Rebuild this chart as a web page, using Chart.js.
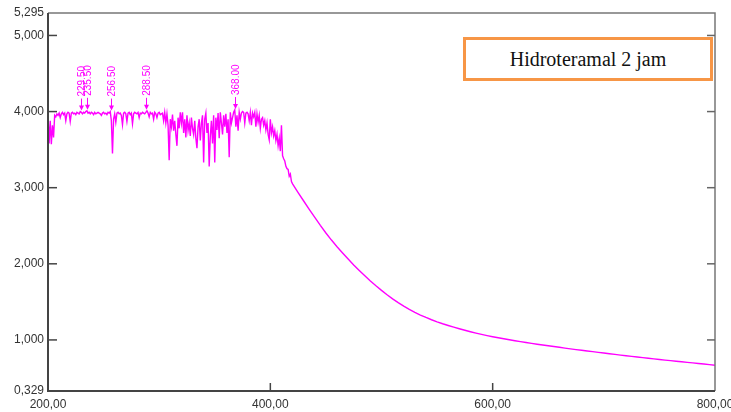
<!DOCTYPE html>
<html>
<head>
<meta charset="utf-8">
<script src="https://cdn.jsdelivr.net/npm/chart.js@4"></script>
<style>
  body { margin: 0; background: #fff; }
  #wrap { position: relative; width: 731px; height: 412px; }
  #note {
    position: absolute; left: 463px; top: 37px; width: 250px; height: 44px;
    box-sizing: border-box; border: 3px solid #f79646; background: #fff;
    display: flex; align-items: center; justify-content: center;
    font: 20px "Liberation Serif", "Times New Roman", serif; color: #111;
  }
</style>
</head>
<body>
<div id="wrap">
  <canvas id="uvChart" width="731" height="412"></canvas>
  <div id="note">Hidroteramal 2 jam</div>
</div>
<script>
// absorbance, 200-419 nm, 1 nm step (noisy saturated part)
const absNoisy = [
  3.95, 3.58, 3.88, 3.57, 3.82, 3.66, 3.95, 3.93, 3.97, 3.95,
  3.98, 3.92, 3.97, 3.99, 3.96, 3.98, 3.88, 3.97, 3.99, 3.98,
  3.87, 3.98, 3.99, 3.97, 3.98, 3.96, 3.99, 3.98, 3.97, 4.00,
  3.99, 3.97, 3.99, 3.98, 4.00, 4.01, 3.98, 3.99, 3.97, 3.99,
  3.98, 3.96, 3.99, 3.97, 3.98, 3.99, 3.98, 3.97, 3.95, 3.98,
  3.99, 3.97, 3.98, 3.96, 3.99, 3.98, 4.00, 3.88, 3.45, 3.90,
  3.97, 3.86, 3.98, 3.99, 3.97, 3.98, 3.95, 3.83, 3.98, 3.99,
  3.97, 3.87, 3.98, 3.99, 3.96, 3.98, 3.84, 3.97, 3.99, 3.98,
  3.97, 3.99, 3.92, 3.98, 3.97, 3.99, 3.98, 3.97, 3.99, 4.01,
  3.98, 3.93, 3.99, 3.97, 3.98, 3.90, 3.99, 3.97, 3.92, 3.98,
  3.99, 3.96, 3.97, 3.98, 3.88, 3.99, 3.85, 3.97, 3.82, 3.36,
  3.90, 3.80, 3.96, 3.75, 3.88, 3.70, 3.55, 3.92, 3.78, 3.99,
  3.85, 3.99, 3.72, 3.90, 3.66, 3.95, 3.75, 3.85, 3.68, 3.92,
  3.78, 3.70, 3.88, 3.65, 3.52, 3.80, 3.90, 3.62, 3.85, 3.95,
  3.33, 3.90, 3.98, 3.72, 3.85, 3.28, 3.68, 3.88, 3.58, 3.95,
  3.33, 3.92, 3.76, 3.98, 3.65, 3.99, 3.85, 3.70, 3.95, 3.80,
  3.97, 3.72, 3.90, 3.40, 3.99, 3.85, 3.92, 3.99, 4.02, 3.80,
  3.95, 3.75, 3.99, 3.90, 3.98, 4.00, 3.99, 3.85, 3.98, 3.99,
  3.97, 3.88, 3.99, 3.82, 3.98, 3.93, 3.99, 3.80, 3.97, 3.86,
  3.95, 3.78, 3.90, 3.92, 3.82, 3.88, 3.76, 3.85, 3.70, 3.63,
  3.90, 3.72, 3.80, 3.68, 3.75, 3.62, 3.70, 3.55, 3.65, 3.48,
  3.82, 3.42, 3.38, 3.35, 3.28, 3.25, 3.24, 3.15, 3.18, 3.08
];
const noisyStart = 200, noisyStep = 1;

// absorbance, 420-800 nm, 5 nm step (smooth tail)
const absTail = [
  3.05, 2.935, 2.825, 2.715, 2.61, 2.505, 2.405, 2.312, 2.225, 2.142,
  2.062, 1.985, 1.912, 1.842, 1.775, 1.711, 1.651, 1.594, 1.540, 1.490,
  1.443, 1.400, 1.362, 1.327, 1.295, 1.265, 1.238, 1.213, 1.190, 1.168,
  1.147, 1.127, 1.108, 1.090, 1.073, 1.057, 1.042, 1.028, 1.015, 1.002,
  0.990, 0.978, 0.966, 0.955, 0.944, 0.933, 0.923, 0.913, 0.903, 0.893,
  0.883, 0.873, 0.864, 0.855, 0.846, 0.837, 0.828, 0.819, 0.810, 0.801,
  0.793, 0.784, 0.776, 0.767, 0.759, 0.751, 0.743, 0.735, 0.728, 0.720,
  0.713, 0.705, 0.698, 0.690, 0.683, 0.675, 0.668
];
const tailStart = 420, tailStep = 5;

const peakNm = [229.5, 235.5, 256.5, 288.5, 368.0];
const peakAbs = [4.00, 4.01, 4.00, 4.01, 4.02];
const peakText = ['229.50', '235.50', '256.50', '288.50', '368.00'];

const xTicks = [200, 400, 600, 800];
const yTicks = [0.329, 1, 2, 3, 4, 5, 5.295];
const yInnerTicks = [1, 2, 3, 4, 5];
const xInnerTicks = [400, 600];

document.addEventListener('DOMContentLoaded', function () {
    const points = [];
    absNoisy.forEach((v, i) => points.push({ x: noisyStart + i * noisyStep, y: v }));
    absTail.forEach((v, i) => points.push({ x: tailStart + i * tailStep, y: v }));

    const frame = {
        id: 'frame',
        afterDraw(chart) {
            const { ctx, chartArea: a, scales: { x, y } } = chart;
            ctx.save();
            // top + right border
            ctx.strokeStyle = '#777';
            ctx.lineWidth = 1.5;
            ctx.beginPath();
            ctx.moveTo(a.left, a.top);
            ctx.lineTo(a.right, a.top);
            ctx.lineTo(a.right, a.bottom);
            ctx.stroke();
            // left + bottom axes
            ctx.strokeStyle = '#444';
            ctx.lineWidth = 2;
            ctx.beginPath();
            ctx.moveTo(a.left, a.top);
            ctx.lineTo(a.left, a.bottom);
            ctx.lineTo(a.right, a.bottom);
            ctx.stroke();
            // inward ticks
            ctx.lineWidth = 1.5;
            yInnerTicks.forEach(v => {
                const py = y.getPixelForValue(v);
                ctx.strokeStyle = '#444';
                ctx.beginPath();
                ctx.moveTo(a.left, py);
                ctx.lineTo(a.left + 9, py);
                ctx.stroke();
                ctx.strokeStyle = '#666';
                ctx.beginPath();
                ctx.moveTo(a.right, py);
                ctx.lineTo(a.right - 8, py);
                ctx.stroke();
            });
            ctx.strokeStyle = '#444';
            xInnerTicks.forEach(v => {
                const px = x.getPixelForValue(v);
                ctx.beginPath();
                ctx.moveTo(px, a.bottom);
                ctx.lineTo(px, a.bottom - 8);
                ctx.stroke();
            });
            ctx.restore();
        }
    };

    const peakMarks = {
        id: 'peakMarks',
        afterDatasetsDraw(chart) {
            const { ctx, scales: { x, y } } = chart;
            ctx.save();
            ctx.strokeStyle = '#ff00ff';
            ctx.fillStyle = '#ff00ff';
            ctx.lineWidth = 1;
            ctx.font = '10px "Liberation Sans", Arial, sans-serif';
            peakNm.forEach((nm, i) => {
                const px = Math.round(x.getPixelForValue(nm)) + 0.5;
                const tip = y.getPixelForValue(peakAbs[i]) - 1;
                ctx.beginPath();
                ctx.moveTo(px, tip - 12);
                ctx.lineTo(px, tip - 4);
                ctx.stroke();
                ctx.beginPath();
                ctx.moveTo(px - 2.5, tip - 5);
                ctx.lineTo(px + 2.5, tip - 5);
                ctx.lineTo(px, tip);
                ctx.closePath();
                ctx.fill();
                ctx.save();
                ctx.translate(px + 1, tip - 14);
                ctx.rotate(-Math.PI / 2);
                ctx.textAlign = 'left';
                ctx.textBaseline = 'middle';
                ctx.fillText(peakText[i], 0, 0);
                ctx.restore();
            });
            ctx.restore();
        }
    };

    const ctx = document.getElementById('uvChart').getContext('2d');
    new Chart(ctx, {
        type: 'line',
        data: {
            datasets: [{
                data: points,
                borderColor: '#ff00ff',
                borderWidth: 1.4,
                pointRadius: 0,
                fill: false,
                tension: 0
            }]
        },
        options: {
            responsive: false,
            animation: false,
            devicePixelRatio: 1,
            parsing: false,
            layout: { padding: { top: 13, right: 16, left: 0, bottom: 0 } },
            scales: {
                x: {
                    type: 'linear',
                    min: 200,
                    max: 800,
                    afterBuildTicks: s => { s.ticks = xTicks.map(v => ({ value: v })); },
                    afterFit: s => { s.height = 21; s.paddingLeft = 0; s.paddingRight = 0; },
                    grid: { display: false, drawTicks: false },
                    border: { display: false },
                    ticks: {
                        autoSkip: false,
                        maxRotation: 0,
                        padding: 6,
                        color: '#333',
                        font: { family: '"Liberation Sans", Arial, sans-serif', size: 12 },
                        callback: v => v.toFixed(2).replace('.', ',')
                    }
                },
                y: {
                    min: 0.329,
                    max: 5.295,
                    afterBuildTicks: s => { s.ticks = yTicks.map(v => ({ value: v })); },
                    afterFit: s => { s.width = 48; },
                    grid: { display: false, drawTicks: false },
                    border: { display: false },
                    ticks: {
                        autoSkip: false,
                        padding: 4,
                        color: '#333',
                        font: { family: '"Liberation Sans", Arial, sans-serif', size: 12 },
                        callback: v => v.toFixed(3).replace('.', ',')
                    }
                }
            },
            plugins: {
                legend: { display: false },
                tooltip: { enabled: false }
            }
        },
        plugins: [frame, peakMarks]
    });
});
</script>
</body>
</html>
